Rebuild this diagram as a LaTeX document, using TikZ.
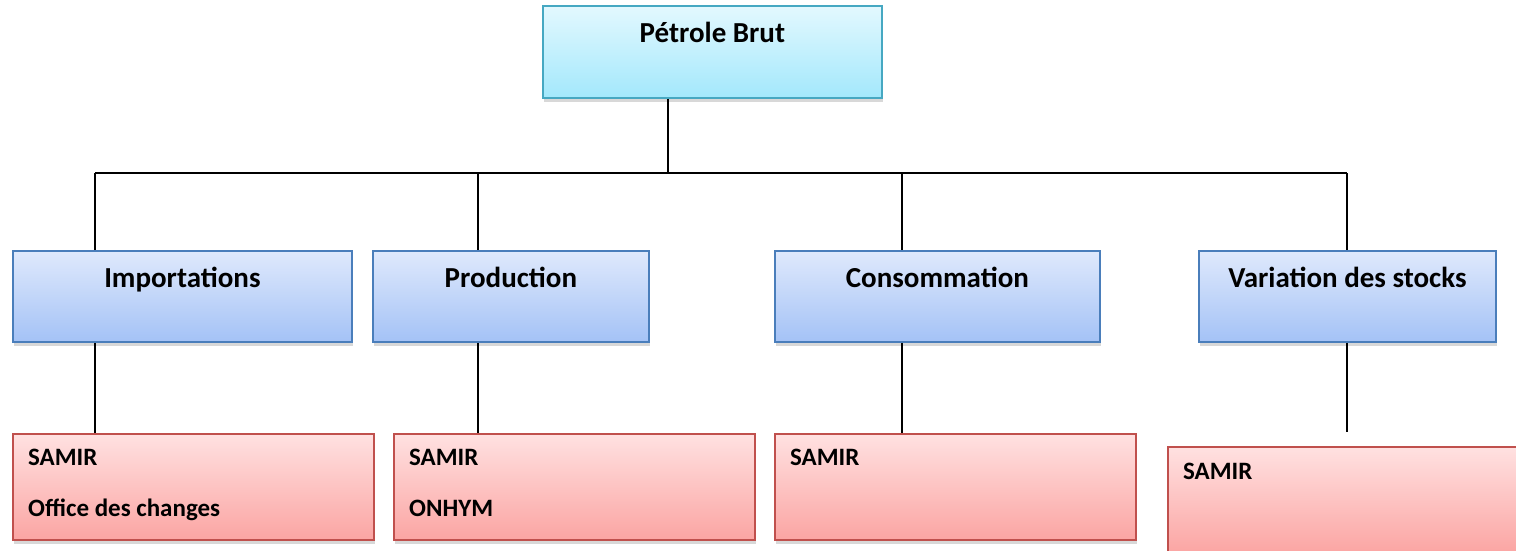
\documentclass[tikz,border=0pt]{standalone}
\usepackage{fontspec}
\setmainfont{Carlito}
\usetikzlibrary{shadows,calc}
\definecolor{cyanTop}{HTML}{E3F8FE}
\definecolor{cyanBot}{HTML}{A3E8FC}
\definecolor{cyanBorder}{HTML}{46A8C2}
\definecolor{blueTop}{HTML}{DFE9FC}
\definecolor{blueBot}{HTML}{A4C2F6}
\definecolor{blueBorder}{HTML}{4A7EBB}
\definecolor{redTop}{HTML}{FFE1E1}
\definecolor{redBot}{HTML}{FBA5A3}
\definecolor{redBorder}{HTML}{C0504D}
\begin{document}
\begin{tikzpicture}[x=1pt,y=-1pt,
  box/.style={draw, line width=1.8pt, inner sep=0pt, anchor=north west,
    drop shadow={opacity=0.3, shadow xshift=1.5pt, shadow yshift=-4pt}},
  topbox/.style={box, draw=cyanBorder, top color=cyanTop, bottom color=cyanBot,
    minimum width=339pt, minimum height=92pt},
  midbox/.style={box, draw=blueBorder, top color=blueTop, bottom color=blueBot,
    minimum height=91pt},
  lowbox/.style={box, draw=redBorder, top color=redTop, bottom color=redBot,
    minimum width=361pt, minimum height=106pt},
  conn/.style={draw=black, line width=1.8pt},
  title/.style={font=\bfseries\fontsize{29}{35}\selectfont, anchor=base, inner sep=0pt},
  item/.style={font=\bfseries\fontsize{25}{30}\selectfont, anchor=base west, inner sep=0pt},
]
\useasboundingbox (0,0) rectangle (1516,550);
\fill[white] (0,0) rectangle (1516,550);

% boxes
\node[topbox] (top) at (542,5) {};
\node[midbox, minimum width=339pt] (imp) at (12,250) {};
\node[midbox, minimum width=276pt] (prod) at (372,250) {};
\node[midbox, minimum width=325pt] (cons) at (774,250) {};
\node[midbox, minimum width=297pt] (var) at (1198,250) {};
\node[lowbox] (impd) at (12,433) {};
\node[lowbox] (prodd) at (393,433) {};
\node[lowbox] (consd) at (774,433) {};
\node[lowbox] (vard) at (1167,446) {};

% titles
\node[title] (ttop) at ($(top.north)+(0,37)$) {Pétrole Brut};
\node[title] (timp) at ($(imp.north)+(0,37)$) {Importations};
\node[title] (tprod) at ($(prod.north)+(0,37)$) {Production};
\node[title] (tcons) at ($(cons.north)+(0,37)$) {Consommation};
\node[title] (tvar) at ($(var.north)+(0,37)$) {Variation des stocks};

% items
\node[item] (i1) at ($(impd.north west)+(16,32)$) {SAMIR};
\node[item] (i2) at ($(impd.north west)+(16,83)$) {Office des changes};
\node[item] (p1) at ($(prodd.north west)+(16,32)$) {SAMIR};
\node[item] (p2) at ($(prodd.north west)+(16,83)$) {ONHYM};
\node[item] (c1) at ($(consd.north west)+(16,32)$) {SAMIR};
\node[item] (v1) at ($(vard.north west)+(16,33)$) {SAMIR};

% connectors
\coordinate (hub) at (668,173);
\coordinate (hl) at (95,173);
\coordinate (hp) at (478,173);
\coordinate (hc) at (902,173);
\coordinate (hr) at (1347,173);
\coordinate (vend) at (1347,432);
\draw[conn] (top.south -| hub) -- (hub);
\draw[conn] (hl) -- (hr);
\draw[conn] (hl) -- (imp.north -| hl);
\draw[conn] (hp) -- (prod.north -| hp);
\draw[conn] (hc) -- (cons.north -| hc);
\draw[conn] (hr) -- (var.north -| hr);
\draw[conn] (imp.south -| hl) -- (impd.north -| hl);
\draw[conn] (prod.south -| hp) -- (prodd.north -| hp);
\draw[conn] (cons.south -| hc) -- (consd.north -| hc);
\draw[conn] (var.south -| hr) -- (vend);
\end{tikzpicture}
\end{document}
